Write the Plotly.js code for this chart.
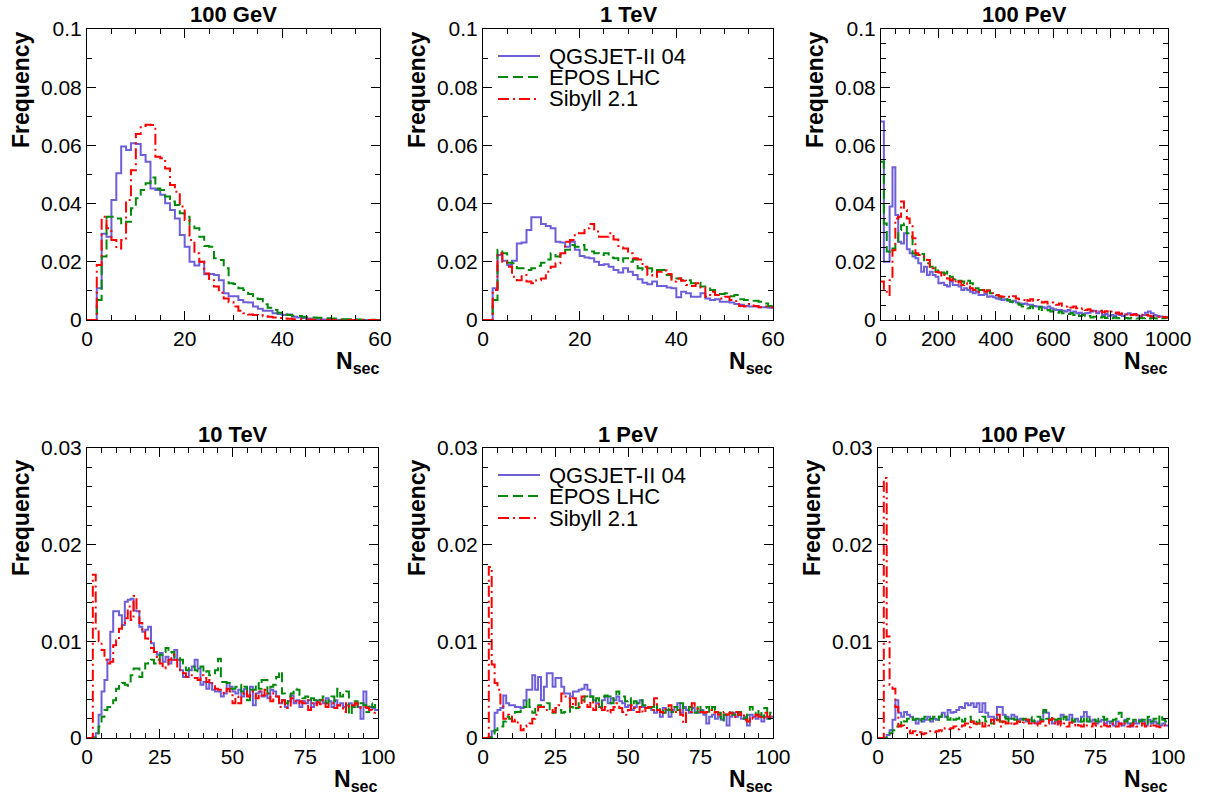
<!DOCTYPE html>
<html><head><meta charset="utf-8">
<script src="https://cdn.plot.ly/plotly-3.0.1.min.js"></script>
<style>html,body{margin:0;padding:0;background:#fff}#chart{width:1205px;height:797px}</style>
</head><body><div id="chart"></div>
<script>
// ---------- data ----------
const panelTitles = ['100 GeV', '1 TeV', '100 PeV', '10 TeV', '1 PeV', '100 PeV'];
const seriesNames = ['QGSJET-II 04', 'EPOS LHC', 'Sibyll 2.1'];
const binWidths = [1, 1, 10, 1, 1, 1];
const xTicks60 = [0, 20, 40, 60];
const xTicks1000 = [0, 200, 400, 600, 800, 1000];
const xTicks100 = [0, 25, 50, 75, 100];
const yTicksTop = [0, 0.02, 0.04, 0.06, 0.08, 0.1];
const yTicksBottom = [0, 0.01, 0.02, 0.03];
const xAxisTitle = 'N';
const xAxisSub = 'sec';
const yAxisTitle = 'Frequency';

// 100 GeV (bin width 1)
const qgs1 = [0,0,0.0109,0.0296,0.0286,0.0412,0.0504,0.0596,0.0584,0.0607,0.0605,0.0567,0.0544,0.0452,0.0447,0.0430,0.0401,0.0378,0.0349,0.0292,0.0252,0.0200,0.0187,0.0200,0.0157,0.0158,0.0155,0.0137,0.0092,0.0082,0.0082,0.0069,0.0061,0.0060,0.0046,0.0039,0.0032,0.0032,0.0023,0.0021,0.0017,0.0019,0.0011,0.0009,0.0007,0.0005,0.0003,0.0003,0.0002,0.0002,0.0001,0.0001,0.0001,0.0001,0,0.0001,0,0,0,0];
const epos1 = [0,0,0.0069,0.0218,0.0355,0.0355,0.0349,0.0326,0.0338,0.0384,0.0418,0.0447,0.0470,0.0490,0.0452,0.0447,0.0424,0.0407,0.0395,0.0367,0.0355,0.0321,0.0315,0.0286,0.0254,0.0252,0.0212,0.0206,0.0178,0.0126,0.0124,0.0109,0.0103,0.0089,0.0074,0.0072,0.0054,0.0042,0.0034,0.0025,0.0019,0.0017,0.0015,0.0014,0.0011,0.0010,0.0009,0.0008,0.0007,0.0006,0.0005,0.0004,0.0003,0.0003,0.0002,0.0002,0.0001,0.0001,0.0001,0];
const sib1 = [0,0,0.0189,0.0355,0.0315,0.0275,0.0246,0.0275,0.0412,0.0515,0.0639,0.0667,0.0671,0.0670,0.0561,0.0556,0.0521,0.0464,0.0441,0.0390,0.0344,0.0275,0.0229,0.0200,0.0160,0.0137,0.0115,0.0094,0.0074,0.0061,0.0046,0.0032,0.0023,0.0019,0.0017,0.0016,0.0013,0.0011,0.0009,0.0007,0.0005,0.0004,0.0003,0.0003,0.0002,0.0002,0.0001,0.0001,0.0001,0.0001,0,0,0,0,0,0,0,0,0,0];

// 1 TeV (bin width 1)
const qgs2 = [0,0,0.0109,0.0223,0.0204,0.0189,0.0204,0.0263,0.0266,0.0309,0.0353,0.0353,0.0330,0.0323,0.0315,0.0269,0.0266,0.0252,0.0269,0.0241,0.0220,0.0215,0.0212,0.0200,0.0189,0.0192,0.0183,0.0172,0.0163,0.0178,0.0166,0.0155,0.0140,0.0128,0.0123,0.0132,0.0117,0.0117,0.0112,0.0109,0.0078,0.0097,0.0092,0.0080,0.0080,0.0092,0.0074,0.0069,0.0071,0.0063,0.0063,0.0060,0.0055,0.0052,0.0048,0.0046,0.0046,0.0044,0.0044,0.0042];
const epos2 = [0,0,0.0069,0.0241,0.0229,0.0197,0.0195,0.0178,0.0178,0.0172,0.0178,0.0186,0.0197,0.0208,0.0229,0.0218,0.0223,0.0241,0.0258,0.0252,0.0258,0.0241,0.0235,0.0229,0.0223,0.0229,0.0215,0.0212,0.0200,0.0212,0.0200,0.0208,0.0178,0.0172,0.0178,0.0166,0.0172,0.0172,0.0155,0.0140,0.0143,0.0137,0.0137,0.0126,0.0128,0.0115,0.0115,0.0103,0.0097,0.0089,0.0092,0.0082,0.0086,0.0071,0.0069,0.0069,0.0066,0.0063,0.0057,0.0048];
const sib2 = [0,0,0.0103,0.0229,0.0200,0.0183,0.0149,0.0137,0.0155,0.0132,0.0126,0.0137,0.0143,0.0166,0.0183,0.0195,0.0229,0.0269,0.0275,0.0298,0.0298,0.0315,0.0330,0.0304,0.0286,0.0286,0.0298,0.0277,0.0254,0.0246,0.0229,0.0212,0.0208,0.0183,0.0155,0.0149,0.0166,0.0170,0.0158,0.0132,0.0143,0.0135,0.0120,0.0117,0.0126,0.0112,0.0080,0.0097,0.0086,0.0074,0.0080,0.0069,0.0065,0.0048,0.0046,0.0055,0.0048,0.0044,0.0046,0.0044];

// 100 PeV, 0-1000 (bin width 10)
const qgs3 = [0.0682,0.0200,0.0200,0.0390,0.0525,0.0361,0.0269,0.0263,0.0298,0.0243,0.0229,0.0218,0.0212,0.0195,0.0166,0.0183,0.0155,0.0166,0.0155,0.0149,0.0126,0.0128,0.0120,0.0115,0.0132,0.0120,0.0120,0.0115,0.0103,0.0109,0.0103,0.0097,0.0092,0.0097,0.0086,0.0086,0.0089,0.0080,0.0082,0.0078,0.0074,0.0071,0.0069,0.0071,0.0066,0.0063,0.0066,0.0060,0.0057,0.0055,0.0057,0.0052,0.0052,0.0048,0.0046,0.0046,0.0044,0.0040,0.0046,0.0040,0.0037,0.0034,0.0034,0.0032,0.0029,0.0034,0.0025,0.0029,0.0023,0.0025,0.0021,0.0023,0.0025,0.0029,0.0032,0.0023,0.0029,0.0017,0.0021,0.0014,0.0017,0.0014,0.0021,0.0017,0.0014,0.0020,0.0023,0.0018,0.0021,0.0016,0.0014,0.0017,0.0025,0.0029,0.0023,0.0017,0.0014,0.0012,0.0011,0.0010];
const epos3 = [0.0544,0.0332,0.0235,0.0229,0.0246,0.0269,0.0309,0.0326,0.0332,0.0298,0.0286,0.0229,0.0223,0.0223,0.0227,0.0200,0.0195,0.0183,0.0189,0.0166,0.0172,0.0163,0.0160,0.0166,0.0149,0.0140,0.0143,0.0135,0.0132,0.0126,0.0135,0.0126,0.0115,0.0109,0.0103,0.0103,0.0097,0.0101,0.0092,0.0089,0.0086,0.0080,0.0074,0.0071,0.0069,0.0063,0.0060,0.0057,0.0052,0.0046,0.0044,0.0040,0.0046,0.0040,0.0037,0.0044,0.0034,0.0032,0.0034,0.0029,0.0032,0.0025,0.0029,0.0023,0.0025,0.0021,0.0023,0.0017,0.0021,0.0014,0.0017,0.0011,0.0014,0.0009,0.0011,0.0007,0.0009,0.0011,0.0007,0.0009,0.0006,0.0009,0.0006,0.0007,0.0005,0.0007,0.0005,0.0008,0.0006,0.0005,0.0007,0.0006,0.0008,0.0005,0.0007,0.0006,0.0005,0.0007,0.0006,0.0008];
const sib3 = [0.0132,0.0097,0.0086,0.0137,0.0240,0.0349,0.0355,0.0407,0.0378,0.0349,0.0326,0.0281,0.0229,0.0223,0.0218,0.0212,0.0206,0.0183,0.0178,0.0166,0.0163,0.0149,0.0155,0.0143,0.0137,0.0143,0.0126,0.0132,0.0120,0.0126,0.0115,0.0109,0.0103,0.0105,0.0097,0.0103,0.0097,0.0101,0.0092,0.0089,0.0086,0.0082,0.0080,0.0078,0.0080,0.0078,0.0082,0.0074,0.0071,0.0069,0.0074,0.0066,0.0071,0.0066,0.0069,0.0063,0.0060,0.0063,0.0057,0.0060,0.0055,0.0052,0.0057,0.0049,0.0046,0.0048,0.0043,0.0046,0.0040,0.0037,0.0040,0.0034,0.0037,0.0032,0.0034,0.0029,0.0032,0.0027,0.0030,0.0025,0.0029,0.0023,0.0026,0.0021,0.0023,0.0019,0.0022,0.0017,0.0020,0.0016,0.0018,0.0014,0.0017,0.0015,0.0012,0.0014,0.0011,0.0013,0.0010,0.0009];

// 10 TeV (bin width 1)
const qgs4 = [0,0,0.0001,0.0005,0.0024,0.0048,0.0060,0.0081,0.0110,0.0131,0.0131,0.0127,0.0117,0.0141,0.0143,0.0144,0.0132,0.0131,0.0115,0.0110,0.0112,0.0115,0.0098,0.0089,0.0086,0.0088,0.0079,0.0084,0.0077,0.0081,0.0091,0.0081,0.0070,0.0063,0.0063,0.0070,0.0074,0.0081,0.0072,0.0055,0.0058,0.0051,0.0057,0.0050,0.0048,0.0048,0.0043,0.0046,0.0057,0.0053,0.0048,0.0046,0.0050,0.0043,0.0051,0.0044,0.0053,0.0034,0.0046,0.0048,0.0043,0.0044,0.0041,0.0050,0.0048,0.0043,0.0036,0.0039,0.0032,0.0038,0.0044,0.0036,0.0039,0.0032,0.0038,0.0036,0.0039,0.0032,0.0036,0.0039,0.0039,0.0036,0.0041,0.0038,0.0032,0.0039,0.0034,0.0036,0.0032,0.0034,0.0036,0.0032,0.0036,0.0032,0.0020,0.0048,0.0032,0.0032,0.0031,0.0029];
const epos4 = [0,0,0,0.0005,0.0012,0.0022,0.0029,0.0032,0.0032,0.0039,0.0051,0.0055,0.0057,0.0055,0.0054,0.0065,0.0072,0.0072,0.0063,0.0070,0.0077,0.0079,0.0081,0.0077,0.0081,0.0086,0.0089,0.0093,0.0088,0.0089,0.0084,0.0084,0.0081,0.0077,0.0070,0.0074,0.0074,0.0070,0.0069,0.0074,0.0067,0.0069,0.0065,0.0067,0.0070,0.0082,0.0058,0.0058,0.0057,0.0051,0.0051,0.0053,0.0055,0.0048,0.0053,0.0039,0.0050,0.0050,0.0057,0.0051,0.0060,0.0060,0.0046,0.0053,0.0055,0.0063,0.0069,0.0046,0.0036,0.0043,0.0046,0.0051,0.0050,0.0043,0.0041,0.0043,0.0039,0.0041,0.0039,0.0041,0.0039,0.0043,0.0036,0.0039,0.0043,0.0038,0.0051,0.0043,0.0046,0.0048,0.0024,0.0032,0.0038,0.0032,0.0036,0.0034,0.0027,0.0036,0.0032,0.0036];
const sib4 = [0,0,0.0169,0.0112,0.0100,0.0091,0.0081,0.0077,0.0079,0.0096,0.0101,0.0113,0.0119,0.0124,0.0136,0.0122,0.0147,0.0132,0.0119,0.0110,0.0103,0.0101,0.0093,0.0089,0.0081,0.0077,0.0072,0.0074,0.0081,0.0086,0.0081,0.0074,0.0070,0.0067,0.0063,0.0065,0.0062,0.0062,0.0060,0.0065,0.0062,0.0058,0.0060,0.0055,0.0051,0.0050,0.0048,0.0046,0.0051,0.0048,0.0036,0.0043,0.0036,0.0046,0.0048,0.0043,0.0048,0.0046,0.0041,0.0048,0.0044,0.0050,0.0046,0.0038,0.0046,0.0043,0.0032,0.0039,0.0031,0.0032,0.0041,0.0038,0.0036,0.0038,0.0036,0.0039,0.0029,0.0036,0.0034,0.0037,0.0035,0.0039,0.0032,0.0036,0.0036,0.0031,0.0034,0.0031,0.0027,0.0036,0.0032,0.0034,0.0036,0.0032,0.0031,0.0032,0.0031,0.0029,0.0026,0.0027];

// 1 PeV (bin width 1)
const qgs5 = [0,0,0.0001,0.0007,0.0026,0.0029,0.0031,0.0044,0.0036,0.0034,0.0034,0.0032,0.0032,0.0031,0.0039,0.0050,0.0050,0.0065,0.0050,0.0063,0.0039,0.0053,0.0067,0.0067,0.0053,0.0062,0.0062,0.0053,0.0046,0.0046,0.0043,0.0048,0.0048,0.0050,0.0051,0.0055,0.0050,0.0043,0.0039,0.0036,0.0032,0.0039,0.0043,0.0036,0.0041,0.0039,0.0043,0.0038,0.0036,0.0032,0.0034,0.0029,0.0032,0.0036,0.0039,0.0032,0.0031,0.0032,0.0029,0.0026,0.0029,0.0022,0.0031,0.0029,0.0022,0.0029,0.0032,0.0036,0.0026,0.0032,0.0029,0.0026,0.0031,0.0027,0.0026,0.0029,0.0024,0.0015,0.0022,0.0024,0.0020,0.0022,0.0019,0.0024,0.0013,0.0022,0.0026,0.0022,0.0026,0.0020,0.0022,0.0013,0.0024,0.0022,0.0020,0.0024,0.0017,0.0022,0.0020,0.0022];
const epos5 = [0,0,0.0001,0.0003,0.0008,0.0010,0.0012,0.0017,0.0022,0.0020,0.0022,0.0027,0.0027,0.0032,0.0032,0.0041,0.0032,0.0026,0.0034,0.0034,0.0032,0.0034,0.0036,0.0029,0.0026,0.0031,0.0029,0.0026,0.0027,0.0026,0.0032,0.0029,0.0031,0.0039,0.0039,0.0043,0.0041,0.0043,0.0036,0.0041,0.0032,0.0043,0.0044,0.0043,0.0036,0.0043,0.0048,0.0043,0.0043,0.0038,0.0041,0.0032,0.0038,0.0036,0.0039,0.0034,0.0032,0.0031,0.0032,0.0036,0.0029,0.0031,0.0026,0.0032,0.0029,0.0027,0.0032,0.0029,0.0036,0.0031,0.0029,0.0032,0.0029,0.0026,0.0034,0.0027,0.0031,0.0032,0.0026,0.0032,0.0029,0.0026,0.0017,0.0024,0.0027,0.0026,0.0024,0.0022,0.0027,0.0024,0.0020,0.0024,0.0032,0.0026,0.0024,0.0029,0.0022,0.0031,0.0020,0.0026];
const sib5 = [0,0,0.0177,0.0076,0.0057,0.0050,0.0034,0.0020,0.0024,0.0022,0.0017,0.0019,0.0015,0.0008,0.0012,0.0013,0.0015,0.0020,0.0024,0.0032,0.0032,0.0031,0.0029,0.0029,0.0027,0.0031,0.0034,0.0046,0.0043,0.0041,0.0032,0.0041,0.0034,0.0032,0.0043,0.0036,0.0032,0.0038,0.0029,0.0036,0.0031,0.0029,0.0032,0.0026,0.0029,0.0032,0.0036,0.0031,0.0027,0.0024,0.0029,0.0034,0.0031,0.0027,0.0032,0.0026,0.0031,0.0032,0.0029,0.0041,0.0029,0.0027,0.0026,0.0032,0.0034,0.0029,0.0027,0.0029,0.0024,0.0015,0.0026,0.0027,0.0036,0.0032,0.0029,0.0027,0.0026,0.0027,0.0029,0.0026,0.0027,0.0024,0.0026,0.0027,0.0024,0.0026,0.0022,0.0027,0.0024,0.0026,0.0019,0.0017,0.0022,0.0020,0.0024,0.0022,0.0020,0.0026,0.0022,0.0024];

// 100 PeV, 0-100 (bin width 1)
const qgs6 = [0,0,0,0.0003,0.0008,0.0019,0.0039,0.0026,0.0022,0.0027,0.0024,0.0022,0.0019,0.0015,0.0019,0.0017,0.0019,0.0022,0.0017,0.0020,0.0019,0.0022,0.0026,0.0022,0.0029,0.0026,0.0027,0.0029,0.0032,0.0031,0.0036,0.0034,0.0036,0.0032,0.0036,0.0027,0.0036,0.0026,0.0022,0.0022,0.0020,0.0032,0.0032,0.0024,0.0022,0.0020,0.0024,0.0022,0.0019,0.0020,0.0019,0.0017,0.0019,0.0017,0.0015,0.0017,0.0019,0.0027,0.0026,0.0019,0.0015,0.0017,0.0015,0.0024,0.0022,0.0019,0.0024,0.0017,0.0020,0.0017,0.0022,0.0027,0.0022,0.0017,0.0019,0.0015,0.0017,0.0019,0.0015,0.0017,0.0015,0.0013,0.0017,0.0015,0.0013,0.0019,0.0015,0.0012,0.0017,0.0015,0.0019,0.0017,0.0013,0.0019,0.0015,0.0017,0.0015,0.0013,0.0015,0.0013];
const epos6 = [0,0,0,0.0001,0.0005,0.0008,0.0012,0.0013,0.0019,0.0017,0.0020,0.0022,0.0019,0.0020,0.0017,0.0020,0.0022,0.0019,0.0020,0.0022,0.0019,0.0022,0.0024,0.0022,0.0019,0.0022,0.0019,0.0020,0.0022,0.0017,0.0020,0.0022,0.0017,0.0019,0.0015,0.0019,0.0022,0.0017,0.0019,0.0015,0.0020,0.0019,0.0017,0.0022,0.0020,0.0017,0.0020,0.0019,0.0017,0.0019,0.0020,0.0019,0.0022,0.0017,0.0019,0.0022,0.0019,0.0029,0.0020,0.0019,0.0022,0.0019,0.0020,0.0017,0.0022,0.0019,0.0020,0.0017,0.0019,0.0020,0.0017,0.0022,0.0017,0.0020,0.0019,0.0017,0.0020,0.0022,0.0019,0.0020,0.0017,0.0019,0.0020,0.0026,0.0019,0.0017,0.0020,0.0015,0.0019,0.0020,0.0017,0.0019,0.0015,0.0022,0.0017,0.0020,0.0015,0.0024,0.0019,0.0017];
const sib6 = [0,0,0.0269,0.0105,0.0055,0.0051,0.0032,0.0012,0.0013,0.0012,0.0008,0.0005,0.0007,0.0003,0.0006,0.0004,0.0005,0.0005,0.0007,0.0006,0.0007,0.0008,0.0007,0.0010,0.0009,0.0010,0.0012,0.0009,0.0012,0.0013,0.0015,0.0011,0.0017,0.0015,0.0013,0.0017,0.0012,0.0015,0.0013,0.0019,0.0015,0.0024,0.0012,0.0017,0.0015,0.0017,0.0013,0.0015,0.0017,0.0015,0.0016,0.0019,0.0015,0.0017,0.0013,0.0015,0.0017,0.0013,0.0015,0.0019,0.0020,0.0013,0.0017,0.0013,0.0015,0.0012,0.0016,0.0013,0.0015,0.0013,0.0012,0.0015,0.0013,0.0012,0.0015,0.0013,0.0012,0.0015,0.0013,0.0012,0.0015,0.0013,0.0012,0.0015,0.0013,0.0015,0.0012,0.0013,0.0015,0.0012,0.0013,0.0015,0.0012,0.0013,0.0011,0.0013,0.0012,0.0011,0.0013,0.0012];

// ---------- layout / style ----------
const W = 1205, H = 797;
const FONT = 'Liberation Sans, Arial, Helvetica, sans-serif';
const boxes = [
  [87, 380, 29, 320], [483, 773, 29, 320], [881, 1168, 29, 320],
  [87, 378, 448, 738], [483, 773, 448, 738], [878, 1168, 448, 738]
];
const panelSeries = [
  [qgs1, epos1, sib1], [qgs2, epos2, sib2], [qgs3, epos3, sib3],
  [qgs4, epos4, sib4], [qgs5, epos5, sib5], [qgs6, epos6, sib6]
];
const xTickSets = [xTicks60, xTicks60, xTicks1000, xTicks100, xTicks100, xTicks100];
const xMinor = [5, 5, 50, 5, 5, 5];
const yMinor = [0.01, 0.01, 0.005, 0.002, 0.002, 0.002];
const yTitleOffset = [61, 61, 61, 70, 70, 70];
const legendPanels = [1, 4];
const styles = [
  {color: '#6c5fd8', dash: 'solid'},
  {color: '#00890a', dash: '10px,5px'},
  {color: '#ff0000', dash: '11px,4px,2px,4px'}
];
const px = x => x / W;
const py = y => 1 - y / H;

function edges(w, n) { const e = []; for (let i = 0; i <= n; i++) e.push(i * w); return e; }

const traces = [];
const layout = {
  width: W, height: H, margin: {l: 0, r: 0, t: 0, b: 0},
  paper_bgcolor: '#fff', plot_bgcolor: '#fff', showlegend: false,
  font: {family: FONT, color: '#000'},
  annotations: [], shapes: []
};

panelSeries.forEach((series, i) => {
  const id = i === 0 ? '' : String(i + 1);
  const [L, R, T, B] = boxes[i];
  const yTicks = i < 3 ? yTicksTop : yTicksBottom;
  const xTicks = xTickSets[i];
  series.forEach((vals, k) => {
    traces.push({
      type: 'scatter', mode: 'lines', name: seriesNames[k],
      x: edges(binWidths[i], vals.length),
      y: vals.concat([vals[vals.length - 1]]),
      line: {shape: 'hv', color: styles[k].color, dash: styles[k].dash, width: 2},
      xaxis: 'x' + id, yaxis: 'y' + id, hoverinfo: 'skip'
    });
  });
  const common = {
    ticks: 'inside', ticklen: 9, tickwidth: 1, tickcolor: '#000',
    showline: true, linecolor: '#000', linewidth: 1, mirror: 'allticks',
    showgrid: false, zeroline: false, fixedrange: true,
    tickfont: {family: FONT, size: 21, color: '#000'}
  };
  layout['xaxis' + id] = Object.assign({}, common, {
    domain: [px(L), px(R)], range: [xTicks[0], xTicks[xTicks.length - 1]],
    anchor: 'y' + id, tickmode: 'array', tickvals: xTicks, ticktext: xTicks.map(String),
    minor: {tickmode: 'linear', tick0: 0, dtick: xMinor[i], ticks: 'inside', ticklen: 5, tickcolor: '#000', tickwidth: 1, showgrid: false}
  });
  layout['yaxis' + id] = Object.assign({}, common, {
    domain: [py(B), py(T)], range: [yTicks[0], yTicks[yTicks.length - 1]],
    anchor: 'x' + id, tickmode: 'array', tickvals: yTicks, ticktext: yTicks.map(String),
    minor: {tickmode: 'linear', tick0: 0, dtick: yMinor[i], ticks: 'inside', ticklen: 5, tickcolor: '#000', tickwidth: 1, showgrid: false}
  });
  // panel title
  layout.annotations.push({
    xref: 'paper', yref: 'paper', x: px((L + R) / 2), y: py(T - 14), xanchor: 'center', yanchor: 'middle',
    text: '<b>' + panelTitles[i] + '</b>', showarrow: false, font: {family: FONT, size: 22, color: '#000'}
  });
  // y title
  layout.annotations.push({
    xref: 'paper', yref: 'paper', x: px(L - 66), y: py(T + yTitleOffset[i]), xanchor: 'center', yanchor: 'middle',
    textangle: -90, text: '<b>' + yAxisTitle + '</b>', showarrow: false, font: {family: FONT, size: 23, color: '#000'}
  });
  // x title
  layout.annotations.push({
    xref: 'paper', yref: 'paper', x: px(R + 2), y: py(B + 26), xanchor: 'right', yanchor: 'top',
    text: '<b>' + xAxisTitle + '<sub>' + xAxisSub + '</sub></b>', showarrow: false, font: {family: FONT, size: 23, color: '#000'}
  });
  // manual legend (tight ROOT-like row spacing)
  if (legendPanels.includes(i)) {
    const rows = [27, 48, 70];
    seriesNames.forEach((nm, k) => {
      layout.shapes.push({
        type: 'line', xref: 'paper', yref: 'paper',
        x0: px(L + 15), x1: px(L + 57), y0: py(T + rows[k]), y1: py(T + rows[k]),
        line: {color: styles[k].color, width: 2, dash: styles[k].dash}
      });
      layout.annotations.push({
        xref: 'paper', yref: 'paper', x: px(L + 64), y: py(T + rows[k]), xanchor: 'left', yanchor: 'middle',
        text: nm, showarrow: false, font: {family: FONT, size: 22, color: '#000'}
      });
    });
  }
});

Plotly.newPlot('chart', traces, layout, {staticPlot: true, displayModeBar: false});
</script>
</body></html>
